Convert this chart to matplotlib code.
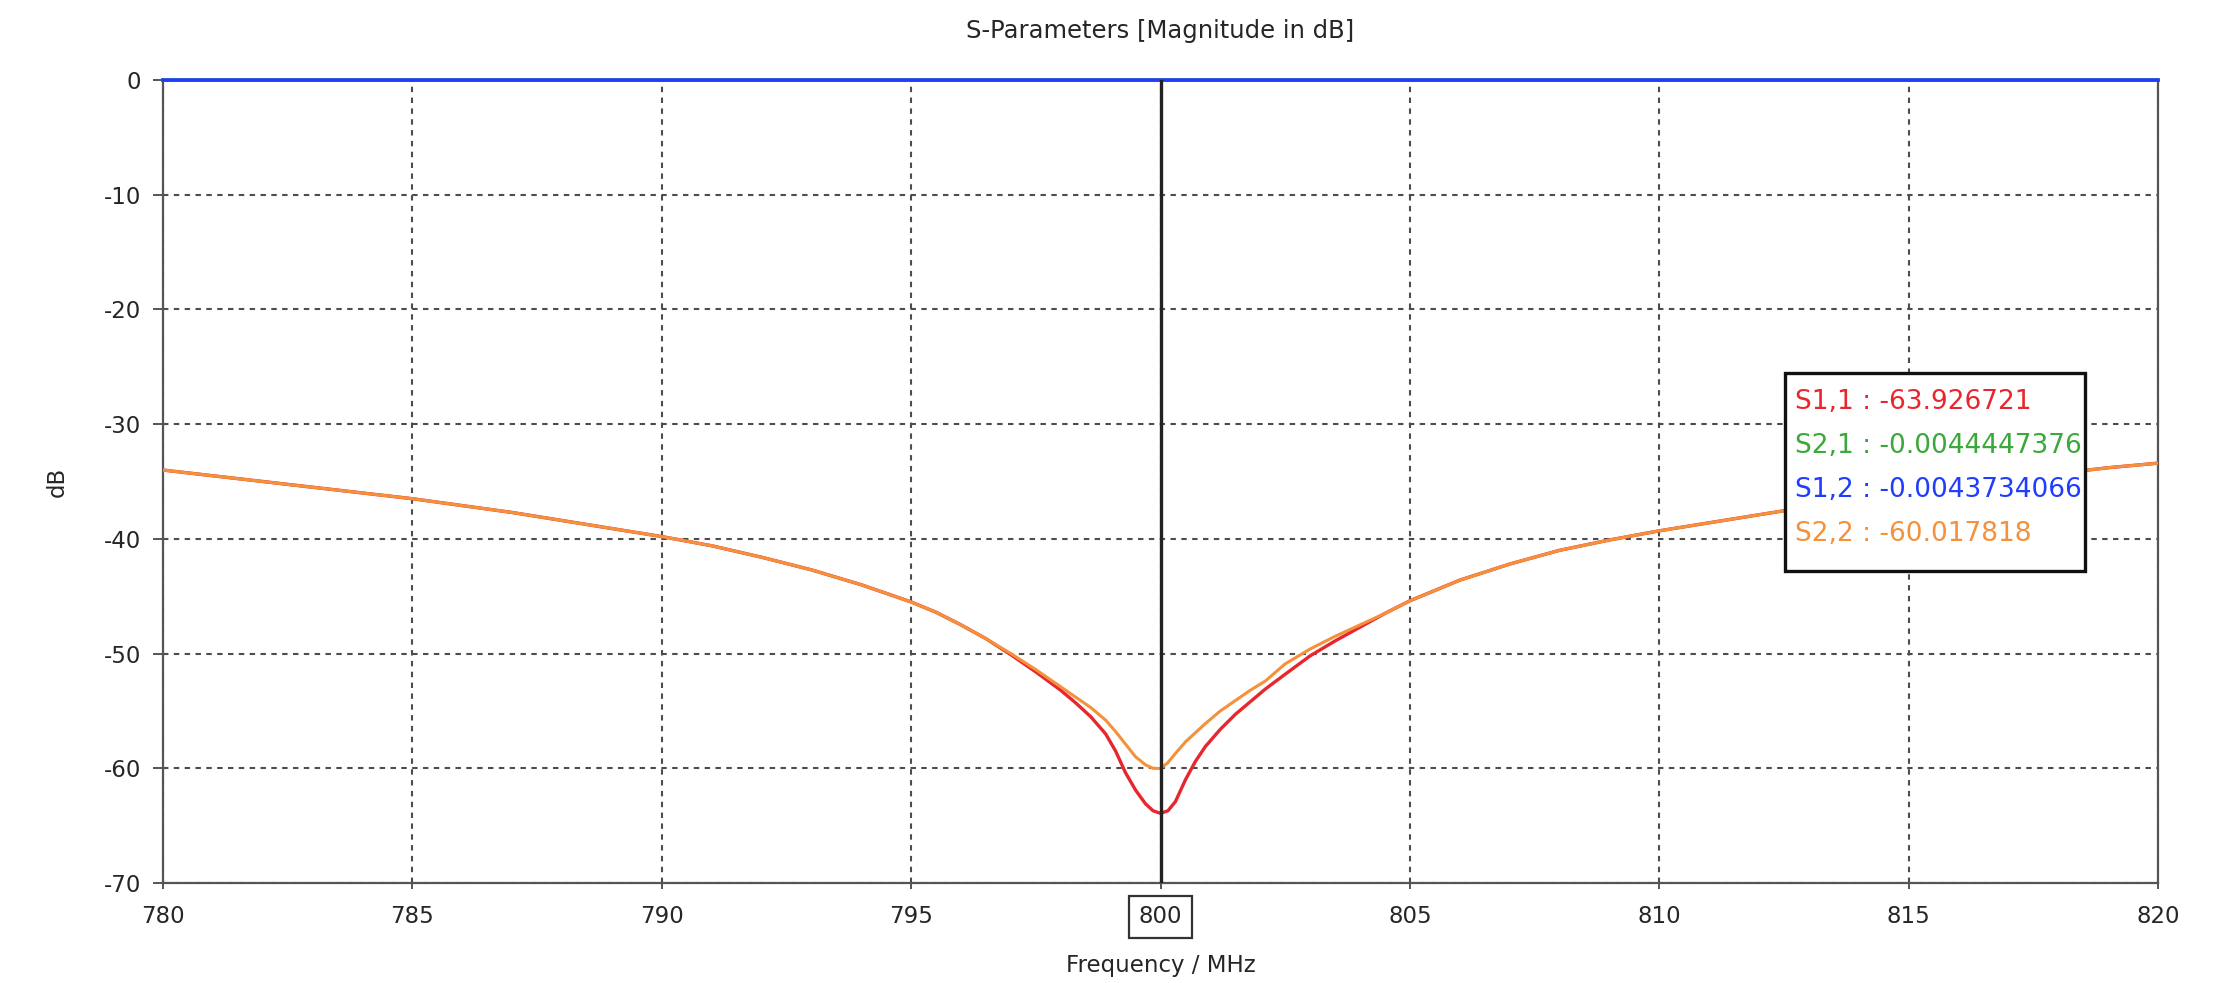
import matplotlib
matplotlib.use("Agg")
import matplotlib.pyplot as plt

plt.rcParams["font.family"] = ["DejaVu Sans"]
plt.rcParams["axes.unicode_minus"] = False

# Frequency sweep (MHz) for the reflection curves
freq = [780, 781, 782, 783, 784, 785, 786, 787, 788, 789, 790, 791, 792, 793,
        794, 795, 795.5, 796, 796.5, 797, 797.5, 798, 798.3, 798.6, 798.9,
        799.1, 799.3, 799.5, 799.7, 799.85, 800, 800.15, 800.3, 800.5, 800.7,
        800.9, 801.2, 801.5, 801.8, 802.1, 802.5, 803, 803.5, 804, 804.5, 805,
        806, 807, 808, 809, 810, 811, 812, 813, 814, 815, 816, 817, 818, 819,
        820]

# S1,1 (dB)
s11 = [-34.0, -34.5, -35.0, -35.5, -36.0, -36.5, -37.1, -37.7, -38.4, -39.1,
       -39.8, -40.6, -41.6, -42.7, -44.0, -45.5, -46.4, -47.5, -48.7, -50.1,
       -51.6, -53.2, -54.3, -55.5, -57.0, -58.5, -60.4, -61.9, -63.1, -63.7,
       -63.926721, -63.7, -62.9, -61.0, -59.4, -58.1, -56.6, -55.3, -54.2,
       -53.1, -51.8, -50.2, -48.9, -47.7, -46.5, -45.4, -43.6, -42.2, -41.0,
       -40.1, -39.3, -38.6, -37.9, -37.2, -36.6, -36.0, -35.4, -34.9, -34.3,
       -33.8, -33.4]

# S2,2 (dB)
s22 = [-34.0, -34.5, -35.0, -35.5, -36.0, -36.5, -37.1, -37.7, -38.4, -39.1,
       -39.8, -40.6, -41.6, -42.7, -44.0, -45.5, -46.4, -47.5, -48.7, -50.0,
       -51.4, -52.9, -53.8, -54.7, -55.8, -56.8, -57.9, -59.0, -59.7, -60.0,
       -60.017818, -59.5, -58.7, -57.7, -56.9, -56.1, -55.0, -54.1, -53.2,
       -52.4, -50.9, -49.6, -48.5, -47.5, -46.5, -45.4, -43.6, -42.2, -41.0,
       -40.1, -39.3, -38.6, -37.9, -37.2, -36.6, -36.0, -35.4, -34.9, -34.3,
       -33.8, -33.4]

# Transmission curves (dB)
freq_t = [780, 790, 800, 810, 820]
s21 = [-0.0047, -0.0046, -0.0044447376, -0.0046, -0.0047]
s12 = [-0.0046, -0.0045, -0.0043734066, -0.0045, -0.0046]

marker_freq = 800
x_ticks = [780, 785, 790, 795, 800, 805, 810, 815, 820]
y_ticks = [0, -10, -20, -30, -40, -50, -60, -70]

c_s11 = "#e8262e"
c_s21 = "#3aa83a"
c_s12 = "#1f3cff"
c_s22 = "#f4913a"
txt = "#262626"

W, H = 2214, 983
fig = plt.figure(figsize=(W / 100, H / 100), dpi=100)
ax = fig.add_axes([163 / W, 1 - 883 / H, (2158 - 163) / W, (883 - 80) / H])

ax.plot(freq, s11, color=c_s11, lw=2.4, zorder=3, solid_capstyle="round",
        solid_joinstyle="round")
ax.plot(freq, s22, color=c_s22, lw=2.2, zorder=4, solid_capstyle="round",
        solid_joinstyle="round")
ax.plot(freq_t, s21, color=c_s21, lw=2.6, zorder=5, clip_on=False)
ax.plot(freq_t, s12, color=c_s12, lw=2.6, zorder=6, clip_on=False)

# Marker line
ax.axvline(marker_freq, color="#222222", lw=2.4, zorder=7)

ax.set_xlim(780, 820)
ax.set_ylim(-70, 0)
ax.set_xticks(x_ticks)
ax.set_yticks(y_ticks)
ax.set_xticklabels([str(v) for v in x_ticks])
ax.set_yticklabels([str(v) for v in y_ticks])

ax.grid(True, color="#4d4d4d", lw=1.5, linestyle=(0, (2.6, 2.6)), zorder=1)
ax.set_axisbelow(True)

for side in ["left", "bottom", "right"]:
    ax.spines[side].set_color("#555555")
    ax.spines[side].set_linewidth(1.6)
ax.spines["top"].set_visible(False)

ax.tick_params(axis="y", direction="out", length=7, width=1.4, color="#555555",
               labelsize=16.5, labelcolor=txt, pad=9)
ax.tick_params(axis="x", direction="out", length=4, width=1.4, color="#555555",
               labelsize=16.5, labelcolor=txt, pad=12)

for lbl, v in zip(ax.get_xticklabels(), x_ticks):
    if v == marker_freq:
        lbl.set_bbox(dict(boxstyle="square,pad=0.42", fc="white",
                          ec="#333333", lw=1.6))

ax.set_xlabel("Frequency / MHz", fontsize=16.5, color=txt)
ax.xaxis.set_label_coords(0.5, -0.089)
ax.set_ylabel("dB", fontsize=16.5, color=txt)
ax.yaxis.set_label_coords(-0.047, 0.5)

fig.text((163 + 2158) / 2 / W, 1 - 31 / H, "S-Parameters [Magnitude in dB]",
         ha="center", va="center", fontsize=17.5, color=txt)

# Marker readout box
x0, x1 = 1785, 2085
y0, y1 = 373, 571
box = plt.Rectangle((x0 / W, 1 - y1 / H), (x1 - x0) / W, (y1 - y0) / H,
                    transform=fig.transFigure, fc="white", ec="#111111",
                    lw=2.4, zorder=10)
fig.add_artist(box)
readout = [("S1,1", s11[freq.index(marker_freq)], c_s11, "{:.6f}"),
           ("S2,1", s21[freq_t.index(marker_freq)], c_s21, "{:.10f}"),
           ("S1,2", s12[freq_t.index(marker_freq)], c_s12, "{:.10f}"),
           ("S2,2", s22[freq.index(marker_freq)], c_s22, "{:.6f}")]
for i, (name, val, col, fmt) in enumerate(readout):
    yc = 402 + i * 44
    fig.text(1795 / W, 1 - yc / H, f"{name} : " + fmt.format(val),
             ha="left", va="center", fontsize=19, color=col, zorder=11)

fig.savefig("out.png", dpi=100, facecolor="white")
